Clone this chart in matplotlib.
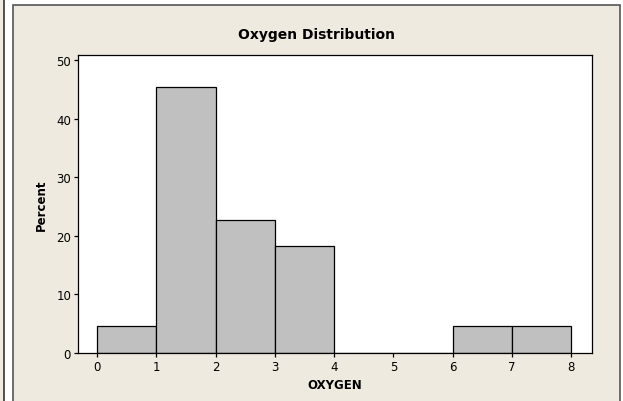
import matplotlib
matplotlib.use("Agg")
import matplotlib.pyplot as plt
from matplotlib.patches import Rectangle

# data
bin_left = [0, 1, 2, 3, 4, 5, 6, 7]
percent = [4.55, 45.45, 22.73, 18.18, 0, 0, 4.55, 4.55]
x_ticks = [0, 1, 2, 3, 4, 5, 6, 7, 8]
y_ticks = [0, 10, 20, 30, 40, 50]

W, H = 623, 402
beige = "#EEEAE0"

fig = plt.figure(figsize=(W / 100, H / 100), dpi=100, facecolor="white")

# panel backgrounds (pixel coords -> figure fraction)
def px(x0, y0, x1, y1, **kw):
    r = Rectangle((x0 / W, 1 - y1 / H), (x1 - x0) / W, (y1 - y0) / H,
                  transform=fig.transFigure, zorder=-10, **kw)
    fig.patches.append(r)

px(-5, -5, 4, H + 5, facecolor=beige, edgecolor="#333333", linewidth=1.2)
px(12.5, 6, 619.5, H + 5, facecolor=beige, edgecolor="#555555", linewidth=1.2)

ax = fig.add_axes([78 / W, (H - 354) / H, (592 - 78) / W, (354 - 56) / H])
ax.set_facecolor("white")
ax.bar(bin_left, percent, width=1, align="edge", color="#C0C0C0",
       edgecolor="black", linewidth=0.9)

ax.set_xlim(-0.32, 8.35)
ax.set_ylim(0, 50.85)
ax.set_xticks(x_ticks)
ax.set_yticks(y_ticks)
ax.tick_params(length=3, width=0.9, labelsize=8.5, pad=2, colors="black")
for s in ax.spines.values():
    s.set_linewidth(0.9)

ax.set_xlabel("OXYGEN", fontsize=8.5, fontweight="bold", labelpad=4)
ax.set_ylabel("Percent", fontsize=8.5, fontweight="bold", labelpad=6)
fig.text(316 / W, 1 - 35 / H, "Oxygen Distribution", ha="center", va="center",
         fontsize=10, fontweight="bold")

fig.savefig("out.png", dpi=100, facecolor=fig.get_facecolor())
